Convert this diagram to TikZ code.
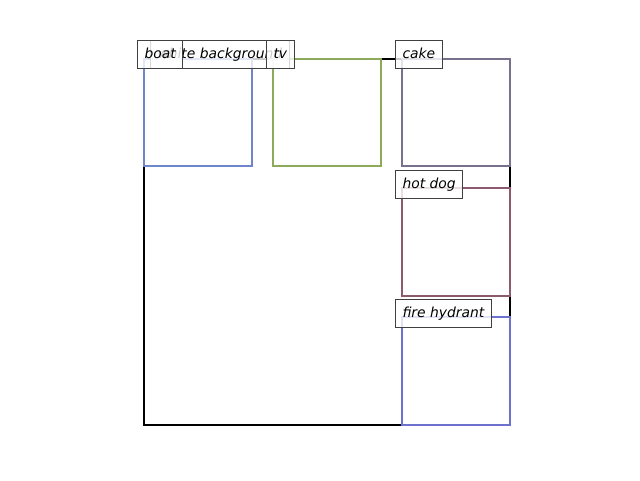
\documentclass[tikz,border=0pt]{standalone}
\usepackage{fontspec}
\setmainfont{DejaVu Sans}
\usetikzlibrary{positioning}

\definecolor{boatblue}{RGB}{112,134,204}
\definecolor{tvgreen}{RGB}{140,170,90}
\definecolor{cakegray}{RGB}{120,112,140}
\definecolor{hotdogred}{RGB}{140,90,110}
\definecolor{hydrantblue}{RGB}{108,114,206}

\tikzset{
  bbox/.style={line width=1.9pt},
  tag/.style={draw=black!75, line width=0.75pt, fill=white, fill opacity=0.8, text opacity=1,
    anchor=north west, inner xsep=5.25pt, inner ysep=0pt, minimum height=21pt,
    text height=8pt, text depth=2.2pt, font=\itshape\fontsize{10.4}{12}\selectfont}
}

\begin{document}
\begin{tikzpicture}[x=0.75pt, y=-0.75pt]
  \useasboundingbox (0,0) rectangle (640,480);

  % Image frame (white background)
  \draw[bbox, black] (144,59) rectangle (510,425);

  % Detection boxes
  \draw[bbox, boatblue] (144,59) rectangle (252,166);
  \draw[bbox, tvgreen] (273,59) rectangle (381,166);
  \draw[bbox, cakegray] (402,59) rectangle (510,166);
  \draw[bbox, hotdogred] (402,188) rectangle (510,296);
  \draw[bbox, hydrantblue] (402,317) rectangle (510,425);

  % Labels
  \node[tag] (bg) at (150,40) {white background};
  \node[tag] (boat) at (137,40) {boat};
  \node[tag] (tv) at (266,40) {tv};
  \node[tag] (cake) at (395,40) {cake};
  \node[tag] (hotdog) at (395,170) {hot dog};
  \node[tag] (hydrant) at (395,299) {fire hydrant};
\end{tikzpicture}
\end{document}
